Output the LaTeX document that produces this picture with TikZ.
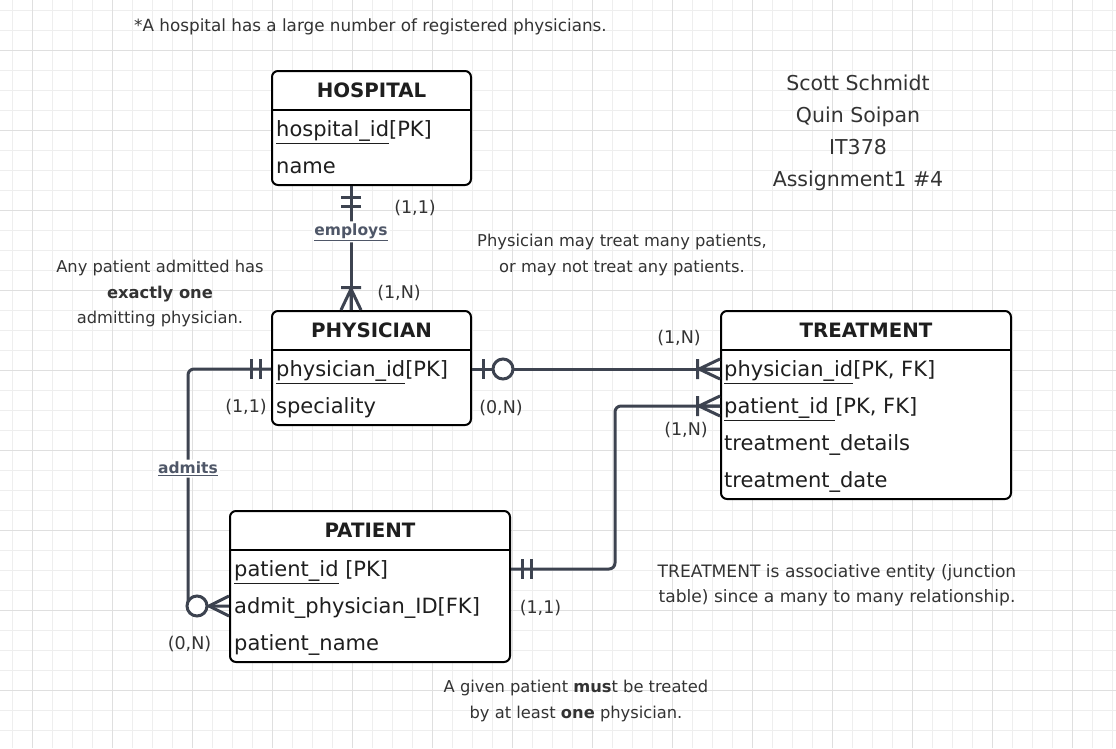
\documentclass[tikz,border=0pt]{standalone}
\usepackage{fontspec}
\setmainfont{DejaVu Sans}
\usetikzlibrary{calc}
\definecolor{gridminor}{HTML}{EEEEEE}
\definecolor{gridmajor}{HTML}{DFDFDF}
\definecolor{slate}{HTML}{3D4350}
\definecolor{lblc}{HTML}{4F5768}
\definecolor{notec}{HTML}{333333}
\definecolor{entc}{HTML}{1E1E1E}
\newcommand{\uln}[1]{\underline{#1}}
\tikzset{
  entity/.style={draw=black, line width=2pt, rounded corners=6pt, inner sep=0pt, fill=white},
  divider/.style={draw=black, line width=2pt},
  etitle/.style={font=\bfseries\fontsize{19.8}{22}\selectfont, text=entc, inner sep=0pt, text height=14pt, text depth=0pt},
  erow/.style={font=\fontsize{21}{24}\selectfont, text=entc, inner sep=0pt, anchor=west, text height=15pt, text depth=0pt},
  conn/.style={draw=slate, line width=3pt, rounded corners=6pt},
  cmk/.style={draw=slate, line width=3pt},
  card/.style={font=\fontsize{17.5}{20}\selectfont, text=notec, inner sep=1pt},
  elabel/.style={font=\bfseries\fontsize{15.5}{18}\selectfont, text=lblc, fill=white, inner sep=2pt},
  note/.style={font=\fontsize{16.3}{25.5}\selectfont, text=notec, align=center, inner sep=0pt},
  names/.style={font=\fontsize{20.5}{32}\selectfont, text=notec, align=center, inner sep=0pt},
  pics/onlyone/.style={code={\draw[cmk] (11,-10)--(11,10) (20,-10)--(20,10);}},
  pics/onemany/.style={code={\draw[cmk] (0,-10)--(21,0) (0,10)--(21,0) (0,0)--(21,0) (22.5,-10)--(22.5,10);}},
  pics/zeromany/.style={code={\draw[cmk] (0,-10)--(20,0) (0,10)--(20,0); \draw[cmk,fill=white] (32,0) circle[radius=10pt];}},
  pics/zeroone/.style={code={\draw[cmk] (11,-10)--(11,10); \draw[cmk,fill=white] (31,0) circle[radius=10pt];}},
}
\begin{document}
\begin{tikzpicture}[x=1pt,y=-1pt]
\useasboundingbox (0,0) rectangle (1116,748);
\fill[white] (0,0) rectangle (1116,748);
% grid
\foreach \x in {12,32,...,1112} \draw[gridminor, line width=1pt] (\x,0) -- (\x,748);
\foreach \y in {10,30,...,740} \draw[gridminor, line width=1pt] (0,\y) -- (1116,\y);
\foreach \x in {32,112,...,1072} \draw[gridmajor, line width=1pt] (\x,0) -- (\x,748);
\foreach \y in {50,130,...,690} \draw[gridmajor, line width=1pt] (0,\y) -- (1116,\y);

% entities
\node[entity, minimum width=199pt, minimum height=114pt] (hosp) at (371.5,128) {};
\draw[divider] ($(hosp.north west)+(0,40)$) -- ($(hosp.north east)+(0,40)$);
\node[etitle] (hospT) at ($(hosp.north)+(0,20)$) {HOSPITAL};
\node[erow] (hosp1) at ($(hosp.north west)+(5,59)$) {\uln{hospital\_id}[PK]};
\node[erow] (hosp2) at ($(hosp.north west)+(5,96)$) {name};

\node[entity, minimum width=199pt, minimum height=114pt] (phy) at (371.5,368) {};
\draw[divider] ($(phy.north west)+(0,40)$) -- ($(phy.north east)+(0,40)$);
\node[etitle] (phyT) at ($(phy.north)+(0,20)$) {PHYSICIAN};
\node[erow] (phy1) at ($(phy.north west)+(5,59)$) {\uln{physician\_id}[PK]};
\node[erow] (phy2) at ($(phy.north west)+(5,96)$) {speciality};

\node[entity, minimum width=290pt, minimum height=188pt] (trt) at (866,405) {};
\draw[divider] ($(trt.north west)+(0,40)$) -- ($(trt.north east)+(0,40)$);
\node[etitle] (trtT) at ($(trt.north)+(0,20)$) {TREATMENT};
\node[erow] (trt1) at ($(trt.north west)+(4,59)$) {\uln{physician\_id}[PK, FK]};
\node[erow] (trt2) at ($(trt.north west)+(4,96)$) {\uln{patient\_id\ }[PK, FK]};
\node[erow] (trt3) at ($(trt.north west)+(4,133)$) {treatment\_details};
\node[erow] (trt4) at ($(trt.north west)+(4,170)$) {treatment\_date};

\node[entity, minimum width=280pt, minimum height=151pt] (pat) at (370,586.5) {};
\draw[divider] ($(pat.north west)+(0,40)$) -- ($(pat.north east)+(0,40)$);
\node[etitle] (patT) at ($(pat.north)+(0,20)$) {PATIENT};
\node[erow] (pat1) at ($(pat.north west)+(5,59)$) {\uln{patient\_id} [PK]};
\node[erow] (pat2) at ($(pat.north west)+(5,96)$) {admit\_physician\_ID[FK]};
\node[erow] (pat3) at ($(pat.north west)+(5,133)$) {patient\_name};

% connectors
\draw[conn] ($(hosp.south)+(-20.5,0)$) -- node[elabel, pos=0.37] (emp) {\uln{employs}} ($(phy.north)+(-20.5,0)$);
\pic[rotate=-90] at ($(hosp.south)+(-20.5,0)$) {onlyone};
\pic[rotate=90] at ($(phy.north)+(-20.5,0)$) {onemany};

\draw[conn] (phy.west |- phy1.west) -- ++(-83,0) |- node[elabel, pos=0.21] (adm) {\uln{admits}} (pat.west |- pat2.west);
\pic[rotate=180] at (phy.west |- phy1.west) {onlyone};
\pic[rotate=180] at (pat.west |- pat2.west) {zeromany};

\draw[conn] (phy.east |- phy1.west) -- (trt.west |- trt1.west);
\pic at (phy.east |- phy1.west) {zeroone};
\pic[rotate=180] at (trt.west |- trt1.west) {onemany};

\draw[conn] (pat.east |- pat1.west) -- ++(104,0) |- (trt.west |- trt2.west);
\pic at (pat.east |- pat1.west) {onlyone};
\pic[rotate=180] at (trt.west |- trt2.west) {onemany};

% cardinalities
\node[card] (c1) at (415,208) {(1,1)};
\node[card] (c2) at (399,293) {(1,N)};
\node[card] (c3) at (246,407) {(1,1)};
\node[card] (c4) at (189.5,644) {(0,N)};
\node[card] (c5) at (501,408) {(0,N)};
\node[card] (c6) at (679,338) {(1,N)};
\node[card] (c7) at (686,430) {(1,N)};
\node[card] (c8) at (540.5,608) {(1,1)};

% notes
\node[note, font=\fontsize{16.8}{25.5}\selectfont] (n1) at (370.5,27) {*A hospital has a large number of registered physicians.};
\node[names] (n2) at (858,133) {Scott Schmidt\\Quin Soipan\\IT378\\Assignment1 \#4};
\node[note] (n3) at (160,293.5) {Any patient admitted has\\\textbf{exactly one}\\admitting physician.};
\node[note] (n4) at (622,255) {Physician may treat many patients,\\or may not treat any patients.};
\node[note, font=\fontsize{17.1}{25.5}\selectfont] (n5) at (837,585.5) {TREATMENT is associative entity (junction\\table) since a many to many relationship.};
\node[note] (n6) at (576,701) {A given patient \textbf{mus}t be treated\\by at least \textbf{one} physician.};
\end{tikzpicture}
\end{document}
